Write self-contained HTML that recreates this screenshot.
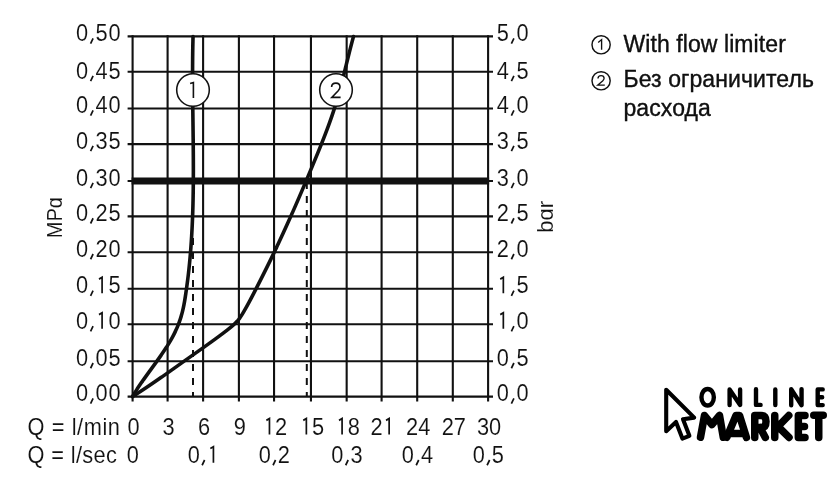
<!DOCTYPE html>
<html><head><meta charset="utf-8">
<style>
html,body{margin:0;padding:0;background:#fff;}
body{width:840px;height:490px;overflow:hidden;position:relative;}
svg{position:absolute;left:0;top:0;will-change:transform;}
text{font-family:"Liberation Sans",sans-serif;fill:#111;}
.thin text{stroke:#fff;stroke-width:0.1px;}
.one{fill:none;stroke:none;}
</style></head><body>
<svg width="840" height="490" viewBox="0 0 840 490">
<rect width="840" height="490" fill="#fff"/>
<g stroke="#111" stroke-width="2.1" fill="none" stroke-linecap="butt">
<line x1="132.60" y1="35.30" x2="132.60" y2="401.40"/>
<line x1="167.60" y1="35.30" x2="167.60" y2="401.40"/>
<line x1="203.10" y1="35.30" x2="203.10" y2="401.40"/>
<line x1="238.90" y1="35.30" x2="238.90" y2="401.40"/>
<line x1="274.05" y1="35.30" x2="274.05" y2="401.40"/>
<line x1="310.95" y1="35.30" x2="310.95" y2="401.40"/>
<line x1="346.67" y1="35.30" x2="346.67" y2="401.40"/>
<line x1="381.60" y1="35.30" x2="381.60" y2="401.40"/>
<line x1="417.20" y1="35.30" x2="417.20" y2="401.40"/>
<line x1="452.80" y1="35.30" x2="452.80" y2="401.40"/>
<line x1="488.10" y1="35.30" x2="488.10" y2="401.40"/>
<line x1="127.60" y1="36.35" x2="493.00" y2="36.35"/>
<line x1="127.60" y1="71.80" x2="493.00" y2="71.80"/>
<line x1="127.60" y1="108.50" x2="493.00" y2="108.50"/>
<line x1="127.60" y1="144.10" x2="493.00" y2="144.10"/>
<line x1="127.60" y1="181.00" x2="493.00" y2="181.00"/>
<line x1="127.60" y1="216.40" x2="493.00" y2="216.40"/>
<line x1="127.60" y1="252.20" x2="493.00" y2="252.20"/>
<line x1="127.60" y1="288.80" x2="493.00" y2="288.80"/>
<line x1="127.60" y1="324.30" x2="493.00" y2="324.30"/>
<line x1="127.60" y1="361.20" x2="493.00" y2="361.20"/>
<line x1="127.60" y1="396.60" x2="493.00" y2="396.60"/>
</g>
<g stroke="#111" fill="none">
<path d="M193.0,238 V396.6 M306.8,182 V396.6" stroke-dasharray="7 7" stroke-width="2"/>
<line x1="131.6" y1="181" x2="489.1" y2="181" stroke-width="7"/>
<path d="M132.60,396.60 L133.06,395.60 L133.65,394.60 L134.26,393.60 L134.88,392.60 L135.51,391.60 L136.14,390.60 L136.78,389.60 L137.43,388.60 L138.09,387.60 L138.76,386.60 L139.43,385.60 L140.11,384.60 L140.79,383.60 L141.48,382.60 L142.18,381.60 L142.87,380.60 L143.58,379.60 L144.29,378.60 L145.00,377.60 L145.71,376.60 L146.43,375.60 L147.15,374.60 L147.87,373.60 L148.60,372.60 L149.32,371.60 L150.05,370.60 L150.78,369.60 L151.51,368.60 L152.23,367.60 L152.96,366.60 L153.69,365.60 L154.41,364.60 L155.14,363.60 L155.86,362.60 L156.58,361.60 L157.30,360.60 L158.01,359.60 L158.72,358.60 L159.43,357.60 L160.13,356.60 L160.83,355.60 L161.52,354.60 L162.21,353.60 L162.89,352.60 L163.57,351.60 L164.24,350.60 L164.90,349.60 L165.56,348.60 L166.21,347.60 L166.85,346.60 L167.48,345.60 L168.10,344.60 L168.72,343.60 L169.32,342.60 L169.92,341.60 L170.51,340.60 L171.08,339.60 L171.65,338.60 L172.20,337.60 L172.74,336.60 L173.27,335.60 L173.79,334.60 L174.29,333.60 L174.78,332.60 L175.26,331.60 L175.73,330.60 L176.19,329.60 L176.63,328.60 L177.07,327.60 L177.49,326.60 L177.90,325.60 L178.29,324.60 L178.68,323.60 L179.06,322.60 L179.42,321.60 L179.77,320.60 L180.11,319.60 L180.44,318.60 L180.76,317.60 L181.07,316.60 L181.36,315.60 L181.65,314.60 L181.92,313.60 L182.18,312.60 L182.44,311.60 L182.68,310.60 L182.91,309.60 L183.14,308.60 L183.36,307.60 L183.57,306.60 L183.77,305.60 L183.97,304.60 L184.15,303.60 L184.34,302.60 L184.52,301.60 L184.69,300.60 L184.86,299.60 L185.02,298.60 L185.18,297.60 L185.34,296.60 L185.49,295.60 L185.65,294.60 L185.80,293.60 L185.95,292.60 L186.09,291.60 L186.24,290.60 L186.38,289.60 L186.52,288.60 L186.66,287.60 L186.80,286.60 L186.94,285.60 L187.07,284.60 L187.21,283.60 L187.34,282.60 L187.47,281.60 L187.59,280.60 L187.72,279.60 L187.84,278.60 L187.96,277.60 L188.08,276.60 L188.20,275.60 L188.32,274.60 L188.43,273.60 L188.55,272.60 L188.66,271.60 L188.77,270.60 L188.88,269.60 L188.99,268.60 L189.09,267.60 L189.19,266.60 L189.30,265.60 L189.40,264.60 L189.50,263.60 L189.59,262.60 L189.69,261.60 L189.78,260.60 L189.88,259.60 L189.97,258.60 L190.06,257.60 L190.15,256.60 L190.23,255.60 L190.32,254.60 L190.40,253.60 L190.48,252.60 L190.57,251.60 L190.65,250.60 L190.72,249.60 L190.80,248.60 L190.88,247.60 L190.95,246.60 L191.02,245.60 L191.09,244.60 L191.16,243.60 L191.23,242.60 L191.30,241.60 L191.36,240.60 L191.43,239.60 L191.49,238.60 L191.55,237.60 L191.62,236.60 L191.67,235.60 L191.73,234.60 L191.79,233.60 L191.85,232.60 L191.90,231.60 L191.95,230.60 L192.01,229.60 L192.06,228.60 L192.11,227.60 L192.16,226.60 L192.20,225.60 L192.25,224.60 L192.29,223.60 L192.34,222.60 L192.38,221.60 L192.42,220.60 L192.46,219.60 L192.50,218.60 L192.54,217.60 L192.58,216.60 L192.62,215.60 L192.65,214.60 L192.69,213.60 L192.72,212.60 L192.75,211.60 L192.78,210.60 L192.81,209.60 L192.84,208.60 L192.87,207.60 L192.90,206.60 L192.93,205.60 L192.95,204.60 L192.98,203.60 L193.00,202.60 L193.02,201.60 L193.05,200.60 L193.07,199.60 L193.09,198.60 L193.11,197.60 L193.13,196.60 L193.14,195.60 L193.16,194.60 L193.18,193.60 L193.19,192.60 L193.21,191.60 L193.22,190.60 L193.24,189.60 L193.25,188.60 L193.26,187.60 L193.27,186.60 L193.28,185.60 L193.29,184.60 L193.30,183.60 L193.31,182.60 L193.32,181.60 L193.32,180.60 L193.33,179.60 L193.33,178.60 L193.34,177.60 L193.34,176.60 L193.35,175.60 L193.35,174.60 L193.35,173.60 L193.36,172.60 L193.36,171.60 L193.36,170.60 L193.36,169.60 L193.36,168.60 L193.36,167.60 L193.36,166.60 L193.36,165.60 L193.35,164.60 L193.35,163.60 L193.35,162.60 L193.34,161.60 L193.34,160.60 L193.34,159.60 L193.33,158.60 L193.33,157.60 L193.32,156.60 L193.32,155.60 L193.31,154.60 L193.30,153.60 L193.30,152.60 L193.29,151.60 L193.28,150.60 L193.27,149.60 L193.26,148.60 L193.26,147.60 L193.25,146.60 L193.24,145.60 L193.23,144.60 L193.22,143.60 L193.21,142.60 L193.20,141.60 L193.19,140.60 L193.18,139.60 L193.17,138.60 L193.16,137.60 L193.14,136.60 L193.13,135.60 L193.12,134.60 L193.11,133.60 L193.10,132.60 L193.09,131.60 L193.07,130.60 L193.06,129.60 L193.05,128.60 L193.04,127.60 L193.03,126.60 L193.01,125.60 L193.00,124.60 L192.99,123.60 L192.98,122.60 L192.96,121.60 L192.95,120.60 L192.94,119.60 L192.93,118.60 L192.91,117.60 L192.90,116.60 L192.89,115.60 L192.88,114.60 L192.87,113.60 L192.85,112.60 L192.84,111.60 L192.83,110.60 L192.82,109.60 L192.81,108.60 L192.80,107.60 L192.78,106.60 L192.77,105.60 L192.76,104.60 L192.75,103.60 L192.74,102.60 L192.73,101.60 L192.72,100.60 L192.71,99.60 L192.70,98.60 L192.69,97.60 L192.68,96.60 L192.67,95.60 L192.67,94.60 L192.66,93.60 L192.65,92.60 L192.64,91.60 L192.64,90.60 L192.63,89.60 L192.62,88.60 L192.62,87.60 L192.61,86.60 L192.60,85.60 L192.60,84.60 L192.59,83.60 L192.59,82.60 L192.59,81.60 L192.58,80.60 L192.58,79.60 L192.58,78.60 L192.58,77.60 L192.57,76.60 L192.57,75.60 L192.57,74.60 L192.57,73.60 L192.57,72.60 L192.58,71.60 L192.58,70.60 L192.58,69.60 L192.58,68.60 L192.59,67.60 L192.59,66.60 L192.59,65.60 L192.60,64.60 L192.61,63.60 L192.61,62.60 L192.62,61.60 L192.63,60.60 L192.64,59.60 L192.64,58.60 L192.65,57.60 L192.66,56.60 L192.68,55.60 L192.69,54.60 L192.70,53.60 L192.71,52.60 L192.73,51.60 L192.74,50.60 L192.76,49.60 L192.78,48.60 L192.79,47.60 L192.81,46.60 L192.83,45.60 L192.85,44.60 L192.87,43.60 L192.89,42.60 L192.92,41.60 L192.94,40.60 L192.96,39.60 L192.99,38.60 L193.01,37.60 L193.04,36.60" stroke-width="3.6" stroke-linecap="round" stroke-linejoin="round"/>
<path d="M132.60,396.60 L134.18,395.60 L135.74,394.60 L137.29,393.60 L138.84,392.60 L140.37,391.60 L141.89,390.60 L143.40,389.60 L144.91,388.60 L146.40,387.60 L147.89,386.60 L149.36,385.60 L150.83,384.60 L152.30,383.60 L153.75,382.60 L155.20,381.60 L156.65,380.60 L158.09,379.60 L159.52,378.60 L160.95,377.60 L162.37,376.60 L163.79,375.60 L165.21,374.60 L166.62,373.60 L168.03,372.60 L169.44,371.60 L170.85,370.60 L172.26,369.60 L173.66,368.60 L175.06,367.60 L176.47,366.60 L177.87,365.60 L179.28,364.60 L180.68,363.60 L182.09,362.60 L183.50,361.60 L184.91,360.60 L186.32,359.60 L187.74,358.60 L189.16,357.60 L190.57,356.60 L191.99,355.60 L193.41,354.60 L194.83,353.60 L196.24,352.60 L197.66,351.60 L199.08,350.60 L200.49,349.60 L201.90,348.60 L203.31,347.60 L204.72,346.60 L206.12,345.60 L207.52,344.60 L208.91,343.60 L210.30,342.60 L211.69,341.60 L213.07,340.60 L214.45,339.60 L215.82,338.60 L217.18,337.60 L218.54,336.60 L219.89,335.60 L221.23,334.60 L222.57,333.60 L223.89,332.60 L225.21,331.60 L226.51,330.60 L227.79,329.60 L229.05,328.60 L230.28,327.60 L231.47,326.60 L232.63,325.60 L233.75,324.60 L234.82,323.60 L235.84,322.60 L236.80,321.60 L237.71,320.60 L238.55,319.60 L239.33,318.60 L240.06,317.60 L240.74,316.60 L241.39,315.60 L242.01,314.60 L242.61,313.60 L243.20,312.60 L243.79,311.60 L244.37,310.60 L244.94,309.60 L245.51,308.60 L246.08,307.60 L246.64,306.60 L247.19,305.60 L247.74,304.60 L248.29,303.60 L248.83,302.60 L249.37,301.60 L249.90,300.60 L250.44,299.60 L250.96,298.60 L251.49,297.60 L252.01,296.60 L252.53,295.60 L253.05,294.60 L253.57,293.60 L254.09,292.60 L254.60,291.60 L255.11,290.60 L255.62,289.60 L256.14,288.60 L256.65,287.60 L257.16,286.60 L257.67,285.60 L258.18,284.60 L258.68,283.60 L259.19,282.60 L259.70,281.60 L260.21,280.60 L260.71,279.60 L261.22,278.60 L261.72,277.60 L262.23,276.60 L262.73,275.60 L263.23,274.60 L263.73,273.60 L264.23,272.60 L264.73,271.60 L265.23,270.60 L265.73,269.60 L266.23,268.60 L266.73,267.60 L267.22,266.60 L267.72,265.60 L268.21,264.60 L268.70,263.60 L269.20,262.60 L269.69,261.60 L270.18,260.60 L270.67,259.60 L271.15,258.60 L271.64,257.60 L272.13,256.60 L272.61,255.60 L273.09,254.60 L273.58,253.60 L274.06,252.60 L274.54,251.60 L275.02,250.60 L275.49,249.60 L275.97,248.60 L276.45,247.60 L276.92,246.60 L277.39,245.60 L277.86,244.60 L278.34,243.60 L278.81,242.60 L279.27,241.60 L279.74,240.60 L280.21,239.60 L280.67,238.60 L281.14,237.60 L281.60,236.60 L282.06,235.60 L282.53,234.60 L282.99,233.60 L283.45,232.60 L283.91,231.60 L284.36,230.60 L284.82,229.60 L285.28,228.60 L285.73,227.60 L286.18,226.60 L286.64,225.60 L287.09,224.60 L287.54,223.60 L287.99,222.60 L288.44,221.60 L288.89,220.60 L289.34,219.60 L289.78,218.60 L290.23,217.60 L290.68,216.60 L291.12,215.60 L291.56,214.60 L292.01,213.60 L292.45,212.60 L292.89,211.60 L293.33,210.60 L293.77,209.60 L294.21,208.60 L294.65,207.60 L295.09,206.60 L295.52,205.60 L295.96,204.60 L296.40,203.60 L296.83,202.60 L297.27,201.60 L297.70,200.60 L298.13,199.60 L298.56,198.60 L299.00,197.60 L299.43,196.60 L299.86,195.60 L300.29,194.60 L300.72,193.60 L301.15,192.60 L301.58,191.60 L302.00,190.60 L302.43,189.60 L302.86,188.60 L303.28,187.60 L303.71,186.60 L304.13,185.60 L304.56,184.60 L304.98,183.60 L305.41,182.60 L305.83,181.60 L306.25,180.60 L306.67,179.60 L307.10,178.60 L307.52,177.60 L307.94,176.60 L308.36,175.60 L308.78,174.60 L309.20,173.60 L309.62,172.60 L310.04,171.60 L310.46,170.60 L310.87,169.60 L311.29,168.60 L311.71,167.60 L312.13,166.60 L312.54,165.60 L312.96,164.60 L313.38,163.60 L313.79,162.60 L314.21,161.60 L314.63,160.60 L315.04,159.60 L315.45,158.60 L315.87,157.60 L316.28,156.60 L316.69,155.60 L317.11,154.60 L317.52,153.60 L317.93,152.60 L318.34,151.60 L318.74,150.60 L319.15,149.60 L319.56,148.60 L319.96,147.60 L320.37,146.60 L320.77,145.60 L321.17,144.60 L321.57,143.60 L321.97,142.60 L322.37,141.60 L322.76,140.60 L323.16,139.60 L323.55,138.60 L323.94,137.60 L324.33,136.60 L324.72,135.60 L325.10,134.60 L325.49,133.60 L325.87,132.60 L326.25,131.60 L326.63,130.60 L327.01,129.60 L327.38,128.60 L327.75,127.60 L328.12,126.60 L328.49,125.60 L328.85,124.60 L329.22,123.60 L329.58,122.60 L329.93,121.60 L330.29,120.60 L330.64,119.60 L330.99,118.60 L331.34,117.60 L331.69,116.60 L332.03,115.60 L332.37,114.60 L332.70,113.60 L333.04,112.60 L333.37,111.60 L333.69,110.60 L334.02,109.60 L334.34,108.60 L334.66,107.60 L334.97,106.60 L335.28,105.60 L335.59,104.60 L335.90,103.60 L336.20,102.60 L336.50,101.60 L336.80,100.60 L337.09,99.60 L337.38,98.60 L337.67,97.60 L337.96,96.60 L338.24,95.60 L338.52,94.60 L338.80,93.60 L339.08,92.60 L339.36,91.60 L339.63,90.60 L339.90,89.60 L340.17,88.60 L340.44,87.60 L340.71,86.60 L340.97,85.60 L341.24,84.60 L341.50,83.60 L341.76,82.60 L342.02,81.60 L342.27,80.60 L342.53,79.60 L342.79,78.60 L343.04,77.60 L343.29,76.60 L343.55,75.60 L343.80,74.60 L344.05,73.60 L344.30,72.60 L344.55,71.60 L344.80,70.60 L345.05,69.60 L345.30,68.60 L345.54,67.60 L345.79,66.60 L346.04,65.60 L346.29,64.60 L346.53,63.60 L346.78,62.60 L347.03,61.60 L347.28,60.60 L347.52,59.60 L347.77,58.60 L348.02,57.60 L348.27,56.60 L348.52,55.60 L348.77,54.60 L349.02,53.60 L349.27,52.60 L349.53,51.60 L349.78,50.60 L350.04,49.60 L350.29,48.60 L350.55,47.60 L350.81,46.60 L351.07,45.60 L351.33,44.60 L351.59,43.60 L351.85,42.60 L352.12,41.60 L352.39,40.60 L352.66,39.60 L352.93,38.60 L353.20,37.60 L353.47,36.60" stroke-width="3.6" stroke-linecap="round" stroke-linejoin="round"/>
</g>
<g stroke="#111" stroke-width="1.55" fill="#fff">
<circle cx="193.0" cy="90.0" r="16.3"/>
<circle cx="336.0" cy="90.0" r="16.3"/>
</g>
<g stroke="#111" stroke-width="1.6" fill="none"><path d="M190.1,83.6 L193.4,82.6 V97.9"/><path d="M331.6,87 C331.6,84.6 333.5,83.1 335.9,83.1 C338.3,83.1 340,84.8 340,87 C340,88.6 339.2,89.6 338.2,90.8 L331.8,97.4 H340.6" stroke-linejoin="miter"/></g>
<g class="thin">
<text id="t1" transform="translate(121.20,41.05) scale(1,1.07)" font-size="21.8" text-anchor="end" letter-spacing="0.7" >0<tspan class="one">,</tspan>50</text>
<path transform="translate(121.20,41.05) scale(1,1.07)" d="M-28.11,-2.50 L-30.61,2.40" stroke="#111" stroke-width="1.7" fill="none"/>
<text id="t2" transform="translate(121.20,78.60) scale(1,1.07)" font-size="21.8" text-anchor="end" letter-spacing="0.7" >0<tspan class="one">,</tspan>45</text>
<path transform="translate(121.20,78.60) scale(1,1.07)" d="M-28.11,-2.50 L-30.61,2.40" stroke="#111" stroke-width="1.7" fill="none"/>
<text id="t3" transform="translate(121.20,113.00) scale(1,1.07)" font-size="21.8" text-anchor="end" letter-spacing="0.7" >0<tspan class="one">,</tspan>40</text>
<path transform="translate(121.20,113.00) scale(1,1.07)" d="M-28.11,-2.50 L-30.61,2.40" stroke="#111" stroke-width="1.7" fill="none"/>
<text id="t4" transform="translate(121.20,148.60) scale(1,1.07)" font-size="21.8" text-anchor="end" letter-spacing="0.7" >0<tspan class="one">,</tspan>35</text>
<path transform="translate(121.20,148.60) scale(1,1.07)" d="M-28.11,-2.50 L-30.61,2.40" stroke="#111" stroke-width="1.7" fill="none"/>
<text id="t5" transform="translate(121.20,185.50) scale(1,1.07)" font-size="21.8" text-anchor="end" letter-spacing="0.7" >0<tspan class="one">,</tspan>30</text>
<path transform="translate(121.20,185.50) scale(1,1.07)" d="M-28.11,-2.50 L-30.61,2.40" stroke="#111" stroke-width="1.7" fill="none"/>
<text id="t6" transform="translate(121.20,220.90) scale(1,1.07)" font-size="21.8" text-anchor="end" letter-spacing="0.7" >0<tspan class="one">,</tspan>25</text>
<path transform="translate(121.20,220.90) scale(1,1.07)" d="M-28.11,-2.50 L-30.61,2.40" stroke="#111" stroke-width="1.7" fill="none"/>
<text id="t7" transform="translate(121.20,256.70) scale(1,1.07)" font-size="21.8" text-anchor="end" letter-spacing="0.7" >0<tspan class="one">,</tspan>20</text>
<path transform="translate(121.20,256.70) scale(1,1.07)" d="M-28.11,-2.50 L-30.61,2.40" stroke="#111" stroke-width="1.7" fill="none"/>
<text id="t8" transform="translate(121.20,293.30) scale(1,1.07)" font-size="21.8" text-anchor="end" letter-spacing="0.7" >0<tspan class="one">,</tspan><tspan class="one">1</tspan>5</text>
<path transform="translate(121.20,293.30) scale(1,1.07)" d="M-28.13,-2.50 L-30.63,2.40 M-22.21,-13.28 L-19.11,-14.98 V0" stroke="#111" stroke-width="1.7" fill="none"/>
<text id="t9" transform="translate(121.20,328.80) scale(1,1.07)" font-size="21.8" text-anchor="end" letter-spacing="0.7" >0<tspan class="one">,</tspan><tspan class="one">1</tspan>0</text>
<path transform="translate(121.20,328.80) scale(1,1.07)" d="M-28.13,-2.50 L-30.63,2.40 M-22.21,-13.28 L-19.11,-14.98 V0" stroke="#111" stroke-width="1.7" fill="none"/>
<text id="t10" transform="translate(121.20,365.70) scale(1,1.07)" font-size="21.8" text-anchor="end" letter-spacing="0.7" >0<tspan class="one">,</tspan>05</text>
<path transform="translate(121.20,365.70) scale(1,1.07)" d="M-28.11,-2.50 L-30.61,2.40" stroke="#111" stroke-width="1.7" fill="none"/>
<text id="t11" transform="translate(121.20,401.10) scale(1,1.07)" font-size="21.8" text-anchor="end" letter-spacing="0.7" >0<tspan class="one">,</tspan>00</text>
<path transform="translate(121.20,401.10) scale(1,1.07)" d="M-28.11,-2.50 L-30.61,2.40" stroke="#111" stroke-width="1.7" fill="none"/>
<text id="t12" transform="translate(496.80,41.05) scale(1,1.07)" font-size="21.8" text-anchor="start" letter-spacing="0.7" >5<tspan class="one">,</tspan>0</text>
<path transform="translate(496.80,41.05) scale(1,1.07)" d="M17.10,-2.50 L14.60,2.40" stroke="#111" stroke-width="1.7" fill="none"/>
<text id="t13" transform="translate(496.80,78.60) scale(1,1.07)" font-size="21.8" text-anchor="start" letter-spacing="0.7" >4<tspan class="one">,</tspan>5</text>
<path transform="translate(496.80,78.60) scale(1,1.07)" d="M17.10,-2.50 L14.60,2.40" stroke="#111" stroke-width="1.7" fill="none"/>
<text id="t14" transform="translate(496.80,113.00) scale(1,1.07)" font-size="21.8" text-anchor="start" letter-spacing="0.7" >4<tspan class="one">,</tspan>0</text>
<path transform="translate(496.80,113.00) scale(1,1.07)" d="M17.10,-2.50 L14.60,2.40" stroke="#111" stroke-width="1.7" fill="none"/>
<text id="t15" transform="translate(496.80,148.60) scale(1,1.07)" font-size="21.8" text-anchor="start" letter-spacing="0.7" >3<tspan class="one">,</tspan>5</text>
<path transform="translate(496.80,148.60) scale(1,1.07)" d="M17.10,-2.50 L14.60,2.40" stroke="#111" stroke-width="1.7" fill="none"/>
<text id="t16" transform="translate(496.80,185.50) scale(1,1.07)" font-size="21.8" text-anchor="start" letter-spacing="0.7" >3<tspan class="one">,</tspan>0</text>
<path transform="translate(496.80,185.50) scale(1,1.07)" d="M17.10,-2.50 L14.60,2.40" stroke="#111" stroke-width="1.7" fill="none"/>
<text id="t17" transform="translate(496.80,220.90) scale(1,1.07)" font-size="21.8" text-anchor="start" letter-spacing="0.7" >2<tspan class="one">,</tspan>5</text>
<path transform="translate(496.80,220.90) scale(1,1.07)" d="M17.10,-2.50 L14.60,2.40" stroke="#111" stroke-width="1.7" fill="none"/>
<text id="t18" transform="translate(496.80,256.70) scale(1,1.07)" font-size="21.8" text-anchor="start" letter-spacing="0.7" >2<tspan class="one">,</tspan>0</text>
<path transform="translate(496.80,256.70) scale(1,1.07)" d="M17.10,-2.50 L14.60,2.40" stroke="#111" stroke-width="1.7" fill="none"/>
<text id="t19" transform="translate(496.80,293.30) scale(1,1.07)" font-size="21.8" text-anchor="start" letter-spacing="0.7" ><tspan class="one">1</tspan><tspan class="one">,</tspan>5</text>
<path transform="translate(496.80,293.30) scale(1,1.07)" d="M3.44,-13.28 L6.54,-14.98 V0 M17.10,-2.50 L14.60,2.40" stroke="#111" stroke-width="1.7" fill="none"/>
<text id="t20" transform="translate(496.80,328.80) scale(1,1.07)" font-size="21.8" text-anchor="start" letter-spacing="0.7" ><tspan class="one">1</tspan><tspan class="one">,</tspan>0</text>
<path transform="translate(496.80,328.80) scale(1,1.07)" d="M3.44,-13.28 L6.54,-14.98 V0 M17.10,-2.50 L14.60,2.40" stroke="#111" stroke-width="1.7" fill="none"/>
<text id="t21" transform="translate(496.80,365.70) scale(1,1.07)" font-size="21.8" text-anchor="start" letter-spacing="0.7" >0<tspan class="one">,</tspan>5</text>
<path transform="translate(496.80,365.70) scale(1,1.07)" d="M17.10,-2.50 L14.60,2.40" stroke="#111" stroke-width="1.7" fill="none"/>
<text id="t22" transform="translate(496.80,401.10) scale(1,1.07)" font-size="21.8" text-anchor="start" letter-spacing="0.7" >0<tspan class="one">,</tspan>0</text>
<path transform="translate(496.80,401.10) scale(1,1.07)" d="M17.10,-2.50 L14.60,2.40" stroke="#111" stroke-width="1.7" fill="none"/>
<text transform="translate(133.60,434.60) scale(1,1.07)" font-size="21.8" text-anchor="middle" letter-spacing="0" >0</text>
<text transform="translate(168.60,434.60) scale(1,1.07)" font-size="21.8" text-anchor="middle" letter-spacing="0" >3</text>
<text transform="translate(204.10,434.60) scale(1,1.07)" font-size="21.8" text-anchor="middle" letter-spacing="0" >6</text>
<text transform="translate(239.90,434.60) scale(1,1.07)" font-size="21.8" text-anchor="middle" letter-spacing="0" >9</text>
<text id="t27" transform="translate(275.05,434.60) scale(1,1.07)" font-size="21.8" text-anchor="middle" letter-spacing="0" ><tspan class="one">1</tspan>2</text>
<path transform="translate(275.05,434.60) scale(1,1.07)" d="M-8.69,-13.28 L-5.59,-14.98 V0" stroke="#111" stroke-width="1.7" fill="none"/>
<text id="t28" transform="translate(311.95,434.60) scale(1,1.07)" font-size="21.8" text-anchor="middle" letter-spacing="0" ><tspan class="one">1</tspan>5</text>
<path transform="translate(311.95,434.60) scale(1,1.07)" d="M-8.69,-13.28 L-5.59,-14.98 V0" stroke="#111" stroke-width="1.7" fill="none"/>
<text id="t29" transform="translate(347.67,434.60) scale(1,1.07)" font-size="21.8" text-anchor="middle" letter-spacing="0" ><tspan class="one">1</tspan>8</text>
<path transform="translate(347.67,434.60) scale(1,1.07)" d="M-8.69,-13.28 L-5.59,-14.98 V0" stroke="#111" stroke-width="1.7" fill="none"/>
<text id="t30" transform="translate(382.60,434.60) scale(1,1.07)" font-size="21.8" text-anchor="middle" letter-spacing="0" >2<tspan class="one">1</tspan></text>
<path transform="translate(382.60,434.60) scale(1,1.07)" d="M3.44,-13.28 L6.54,-14.98 V0" stroke="#111" stroke-width="1.7" fill="none"/>
<text transform="translate(418.20,434.60) scale(1,1.07)" font-size="21.8" text-anchor="middle" letter-spacing="0" >24</text>
<text transform="translate(453.80,434.60) scale(1,1.07)" font-size="21.8" text-anchor="middle" letter-spacing="0" >27</text>
<text transform="translate(489.10,434.60) scale(1,1.07)" font-size="21.8" text-anchor="middle" letter-spacing="0" >30</text>
<text transform="translate(133.10,462.70) scale(1,1.07)" font-size="21.8" text-anchor="middle" letter-spacing="0.5" >0</text>
<text id="t35" transform="translate(203.60,462.70) scale(1,1.07)" font-size="21.8" text-anchor="middle" letter-spacing="0.5" >0<tspan class="one">,</tspan><tspan class="one">1</tspan></text>
<path transform="translate(203.60,462.70) scale(1,1.07)" d="M1.00,-2.50 L-1.50,2.40 M6.72,-13.28 L9.82,-14.98 V0" stroke="#111" stroke-width="1.7" fill="none"/>
<text id="t36" transform="translate(274.55,462.70) scale(1,1.07)" font-size="21.8" text-anchor="middle" letter-spacing="0.5" >0<tspan class="one">,</tspan>2</text>
<path transform="translate(274.55,462.70) scale(1,1.07)" d="M1.00,-2.50 L-1.50,2.40" stroke="#111" stroke-width="1.7" fill="none"/>
<text id="t37" transform="translate(347.17,462.70) scale(1,1.07)" font-size="21.8" text-anchor="middle" letter-spacing="0.5" >0<tspan class="one">,</tspan>3</text>
<path transform="translate(347.17,462.70) scale(1,1.07)" d="M1.00,-2.50 L-1.50,2.40" stroke="#111" stroke-width="1.7" fill="none"/>
<text id="t38" transform="translate(417.70,462.70) scale(1,1.07)" font-size="21.8" text-anchor="middle" letter-spacing="0.5" >0<tspan class="one">,</tspan>4</text>
<path transform="translate(417.70,462.70) scale(1,1.07)" d="M1.00,-2.50 L-1.50,2.40" stroke="#111" stroke-width="1.7" fill="none"/>
<text id="t39" transform="translate(488.60,462.70) scale(1,1.07)" font-size="21.8" text-anchor="middle" letter-spacing="0.5" >0<tspan class="one">,</tspan>5</text>
<path transform="translate(488.60,462.70) scale(1,1.07)" d="M1.00,-2.50 L-1.50,2.40" stroke="#111" stroke-width="1.7" fill="none"/>
<text transform="translate(27.50,434.60) scale(1,1.07)" font-size="21.8" text-anchor="start" letter-spacing="0" textLength="92.5" lengthAdjust="spacing">Q = l/min</text>
<text transform="translate(27.50,462.70) scale(1,1.07)" font-size="21.8" text-anchor="start" letter-spacing="0" textLength="89.5" lengthAdjust="spacing">Q = l/sec</text>
<text transform="translate(61.8,238.2) rotate(-90)" font-size="21.8" textLength="41" lengthAdjust="spacingAndGlyphs">MP&#x251;</text>
<text transform="translate(553.1,232.8) rotate(-90)" font-size="21.8" textLength="31.8" lengthAdjust="spacingAndGlyphs">b&#x251;r</text>
</g>
<g stroke="#111" stroke-width="1.45" fill="none"><circle cx="601.1" cy="44.8" r="9.1"/><circle cx="601.1" cy="80.75" r="9.1"/><path d="M598.2,42.5 L601.6,39.6 V49.7" stroke-width="1.35"/><path d="M598,78.6 C598,76.7 599.4,75.6 601.1,75.6 C602.8,75.6 604.1,76.7 604.1,78.3 C604.1,79.4 603.5,80.2 602.6,81.1 L597.8,85.1 H604.8" stroke-width="1.35"/></g>
<text x="623.5" y="51.6" font-size="23" letter-spacing="0.08" fill="#000" stroke="#000" stroke-width="0.35">With flow limiter</text>
<text x="623.5" y="87.4" font-size="23" letter-spacing="0.08" fill="#000" stroke="#000" stroke-width="0.35">Без ограничитель</text>
<text x="623.5" y="115.6" font-size="23" letter-spacing="0.08" fill="#000" stroke="#000" stroke-width="0.35">расхода</text>
<path d="M666.2,389.8 L666.2,431.2 L676.0,422 L682.4,438.6 L689.4,435.8 L683,419.2 L694.2,417.6 Z" stroke="#000" stroke-width="4.1" stroke-linejoin="round" fill="#fff"/>
<g stroke="#000" fill="none" stroke-linecap="round" stroke-linejoin="round">
<g stroke-width="4.4">
<ellipse cx="707.65" cy="397.25" rx="6.2" ry="8.3"/>
<path d="M729.6,405 V389.5 L740.1,405 V389.5"/>
<path d="M756,389.3 V404.9 H760.6"/>
<path d="M775.3,389.4 V405.1"/>
<path d="M791.2,405.2 V389.1 L801.55,405.2 V389.1"/>
<path d="M822.7,389.4 H817.7 V405.1 H822.7 M817.7,397.2 H822.2"/>
</g>
<g stroke-width="7.5">
<path d="M700.5,437.3 L704.5,415.5 L711.9,424.6 L719.5,415.5 L723.3,437.3"/>
<path d="M726.8,437.4 L736,415.5 L739.5,415.5 L746.4,437.4 M730.5,433.5 H743"/>
<path d="M754.75,437.4 V415.5 H761 Q766,415.5 766,421.5 Q766,427.5 761,427.5 H754.75 M760,427.5 L765.3,437.4"/>
<path d="M774.75,415.5 V437.4 M788.75,415.5 L778,426.5 L789,437.4"/>
<path d="M805,415.5 H798.35 V437.4 H805 M798.35,426.5 H804.5"/>
<path d="M813.75,415.3 H823.25 M818.75,415.3 V437.4"/>
</g>
</g>
</svg>
</body></html>
